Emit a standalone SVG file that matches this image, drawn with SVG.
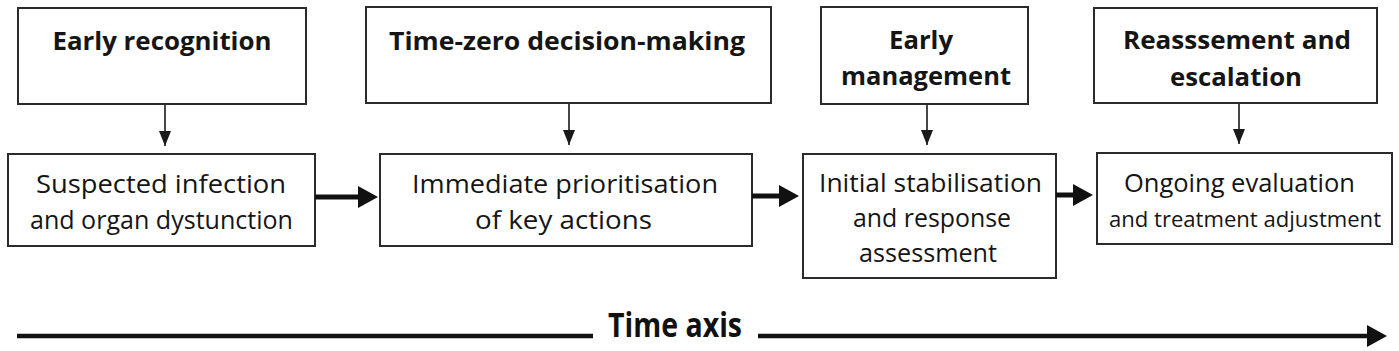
<svg xmlns="http://www.w3.org/2000/svg" width="1399" height="351" viewBox="0 0 1399 351">
<style>
.box{fill:#fff;stroke:#2b2b2b;stroke-width:2}
.ttl{font-family:"Open Sans","Liberation Sans",sans-serif;font-weight:700;font-size:25px;fill:#151515;text-anchor:middle}
.txt{font-family:"Open Sans","Liberation Sans",sans-serif;font-weight:400;font-size:25px;fill:#151515;text-anchor:middle}
.axis{font-family:"Open Sans","Liberation Sans",sans-serif;font-weight:700;font-size:34px;fill:#111;text-anchor:middle}
.thin{stroke:#1a1a1a;stroke-width:1.6;fill:none}
.thick{stroke:#111;stroke-width:5;fill:none}
</style>
<defs>
<marker id="ah" markerUnits="userSpaceOnUse" markerWidth="12" markerHeight="15" refX="6" refY="15" orient="0" viewBox="0 0 12 15">
<path d="M0,0 L12,0 L6,15 z" fill="#1a1a1a"/>
</marker>
<marker id="ahb" markerUnits="userSpaceOnUse" markerWidth="20" markerHeight="22" refX="0" refY="11" orient="auto" viewBox="0 0 20 22">
<path d="M0,0 L20,11 L0,22 z" fill="#111"/>
</marker>
</defs>
<rect width="1399" height="351" fill="#fff"/>

<g id="stage1-top">
<rect class="box" x="18" y="8" width="288" height="96"/>
<text class="ttl" x="162" y="50" textLength="219" lengthAdjust="spacingAndGlyphs">Early recognition</text>
</g>
<g id="stage2-top">
<rect class="box" x="366" y="7" width="405" height="96"/>
<text class="ttl" x="567" y="50" textLength="356" lengthAdjust="spacingAndGlyphs">Time-zero decision-making</text>
</g>
<g id="stage3-top">
<rect class="box" x="821" y="7" width="207" height="97"/>
<text class="ttl" x="921" y="49" textLength="64" lengthAdjust="spacingAndGlyphs">Early</text>
<text class="ttl" x="926" y="85" textLength="170" lengthAdjust="spacingAndGlyphs">management</text>
</g>
<g id="stage4-top">
<rect class="box" x="1094" y="8" width="283" height="95"/>
<text class="ttl" x="1237" y="49" textLength="228" lengthAdjust="spacingAndGlyphs">Reasssement and</text>
<text class="ttl" x="1236" y="86" textLength="132" lengthAdjust="spacingAndGlyphs">escalation</text>
</g>

<g id="stage1-bottom">
<rect class="box" x="8" y="154" width="307" height="92"/>
<text class="txt" x="161" y="193" textLength="250" lengthAdjust="spacingAndGlyphs">Suspected infection</text>
<text class="txt" x="161.5" y="229" textLength="263" lengthAdjust="spacingAndGlyphs">and organ dystunction</text>
</g>
<g id="stage2-bottom">
<rect class="box" x="380" y="154" width="372" height="92"/>
<text class="txt" x="565" y="193" textLength="306" lengthAdjust="spacingAndGlyphs">Immediate prioritisation</text>
<text class="txt" x="563.5" y="229" textLength="177" lengthAdjust="spacingAndGlyphs">of key actions</text>
</g>
<g id="stage3-bottom">
<rect class="box" x="803" y="154" width="253" height="124"/>
<text class="txt" x="930.5" y="192" textLength="223" lengthAdjust="spacingAndGlyphs">Initial stabilisation</text>
<text class="txt" x="932" y="227" textLength="158" lengthAdjust="spacingAndGlyphs">and response</text>
<text class="txt" x="928" y="262" textLength="138" lengthAdjust="spacingAndGlyphs">assessment</text>
</g>
<g id="stage4-bottom">
<rect class="box" x="1097" y="153" width="295" height="91"/>
<text class="txt" x="1239.5" y="192" textLength="231" lengthAdjust="spacingAndGlyphs">Ongoing evaluation</text>
<text class="txt" style="font-size:22.5px" x="1245" y="227" textLength="272" lengthAdjust="spacingAndGlyphs">and treatment adjustment</text>
</g>

<g id="connectors">
<line class="thin" x1="165" y1="105" x2="165" y2="146" marker-end="url(#ah)"/>
<line class="thin" x1="569" y1="104" x2="569" y2="145" marker-end="url(#ah)"/>
<line class="thin" x1="927" y1="105" x2="927" y2="145" marker-end="url(#ah)"/>
<line class="thin" x1="1239" y1="104" x2="1239" y2="144" marker-end="url(#ah)"/>
<line class="thick" x1="315" y1="197" x2="358" y2="197" marker-end="url(#ahb)"/>
<line class="thick" x1="752" y1="196" x2="779" y2="196" marker-end="url(#ahb)"/>
<line class="thick" x1="1056" y1="195" x2="1073" y2="195" marker-end="url(#ahb)"/>
</g>

<g id="time-axis">
<line class="thick" style="stroke-width:4.5" x1="17" y1="336" x2="593" y2="336"/>
<line class="thick" style="stroke-width:4.5" x1="758" y1="336" x2="1367" y2="336" marker-end="url(#ahb)"/>
<text class="axis" x="675" y="337" textLength="134" lengthAdjust="spacingAndGlyphs">Time axis</text>
</g>
</svg>
